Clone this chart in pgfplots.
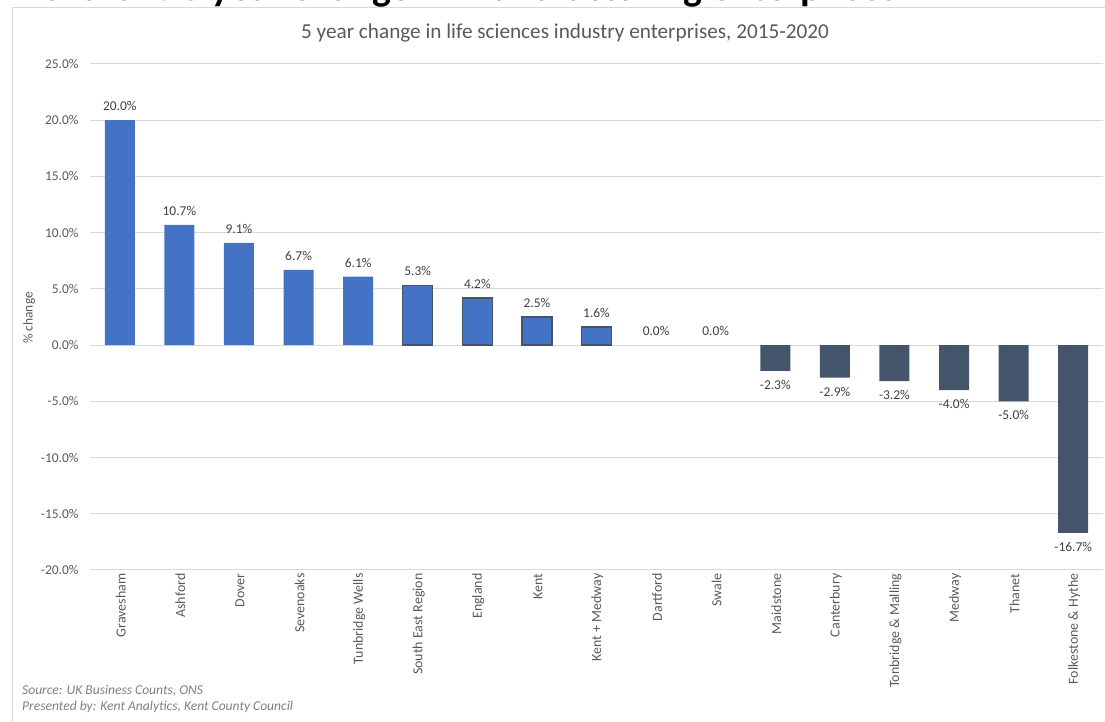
\documentclass[border=0pt]{standalone}
\usepackage{pgfplots}
\pgfplotsset{compat=1.18}
\usepackage{fontspec}
\setmainfont{Carlito}
\definecolor{barblue}{HTML}{4472C4}
\definecolor{bardark}{HTML}{44546A}
\definecolor{gridgray}{HTML}{D9D9D9}
\definecolor{ticktext}{HTML}{595959}
\definecolor{labeltext}{HTML}{404040}
\definecolor{srcgray}{HTML}{7F7F7F}
\begin{document}
\begin{tikzpicture}[x=1bp,y=1bp]
\path[use as bounding box] (0,0) rectangle (1105,722);
\begin{scope}
\clip (0,715) rectangle (1105,722);
\node[anchor=base west, font=\fontsize{40}{48}\selectfont\bfseries, inner sep=0] at (40,721.5) {Chart 7: 5 year change in manufacturing enterprises};
\end{scope}
\draw[gridgray, line width=1bp] (12,0) -- (12,714) -- (1105,714);
\begin{axis}[
  at={(90bp,152bp)}, anchor=south west, scale only axis,
  width=1013bp, height=506bp,
  xmin=-0.5, xmax=16.5, ymin=-20, ymax=25,
  ytick={-20,-15,...,25},
  ymajorgrids, grid style={gridgray, line width=1bp},
  axis line style={draw=none},
  major tick length=0,
  xtick={0,...,16},
  xticklabels={Gravesham,Ashford,Dover,Sevenoaks,Tunbridge Wells,South East Region,England,Kent,Kent + Medway,Dartford,Swale,Maidstone,Canterbury,Tonbridge \& Malling,Medway,Thanet,Folkestone \& Hythe},
  xticklabel style={rotate=90, anchor=east, font=\fontsize{14}{16}\selectfont, color=ticktext, yshift=-1bp},
  yticklabel={\pgfmathprintnumber[fixed,fixed zerofill,precision=1,assume math mode=true]{\tick}\%},
  yticklabel style={font=\fontsize{13.5}{16}\selectfont, color=ticktext, xshift=-8bp},
  ybar, bar width=30bp,
  every axis plot/.append style={bar shift=0pt},
  nodes near coords={\pgfmathprintnumber[fixed,fixed zerofill,precision=1,assume math mode=true]{\pgfplotspointmeta}\%},
  nodes near coords style={font=\fontsize{13.5}{16}\selectfont, color=labeltext, inner ysep=9bp},
  clip=false,
]
\addplot[fill=barblue, draw=none] coordinates {(0,20.0) (1,10.7) (2,9.1) (3,6.7) (4,6.1)};
\addplot[fill=barblue, draw=bardark, line width=1.5bp] coordinates {(5,5.3) (6,4.2) (7,2.5) (8,1.6)};
\addplot[fill=none, draw=none] coordinates {(9,0) (10,0)};
\addplot[fill=bardark, draw=none] coordinates {(11,-2.3) (12,-2.9) (13,-3.2) (14,-4.0) (15,-5.0) (16,-16.7)};
\end{axis}
\node[font=\fontsize{21.3}{24}\selectfont, color=ticktext] at (565,689) {5 year change in life sciences industry enterprises, 2015-2020};
\node[rotate=90, font=\fontsize{13.5}{16}\selectfont, color=ticktext] at (29,404) {\% change};
\node[anchor=west, font=\fontsize{13.6}{15}\selectfont\itshape, color=srcgray, inner sep=0] at (22,31) {Source: UK Business Counts, ONS};
\node[anchor=west, font=\fontsize{13.6}{15}\selectfont\itshape, color=srcgray, inner sep=0] at (22,15) {Presented by: Kent Analytics, Kent County Council};
\end{tikzpicture}
\end{document}
